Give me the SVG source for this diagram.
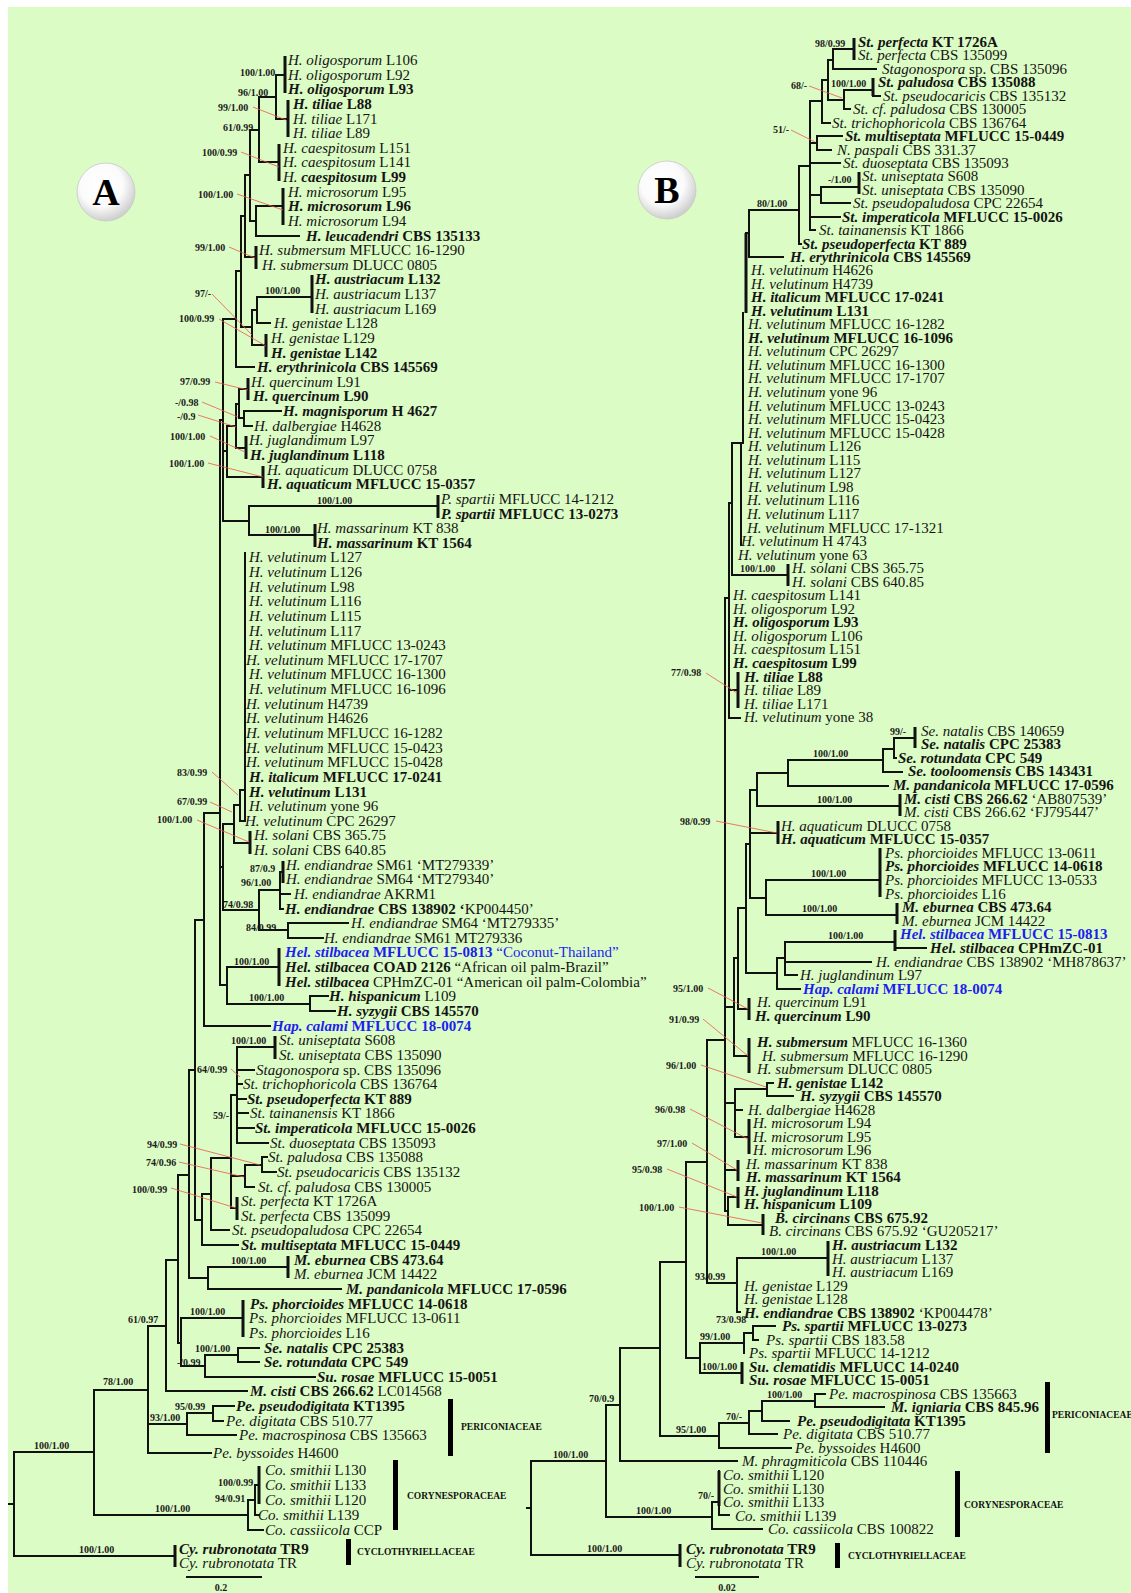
<svg xmlns="http://www.w3.org/2000/svg" width="1131" height="1593" viewBox="0 0 1131 1593">
<defs>
<radialGradient id="cg" cx="42%" cy="38%" r="62%">
<stop offset="0" stop-color="#ffffff"/>
<stop offset="0.6" stop-color="#fbfbfb"/>
<stop offset="1" stop-color="#cfcfcf"/>
</radialGradient>
<style>
.bg{fill:#dcfcc5}
.t{font-family:"Liberation Serif","Times New Roman",serif;font-size:15px;fill:#141414}
.i{font-style:italic}
.bi{font-style:italic;font-weight:bold}
.b{font-weight:bold}
.blue{fill:#1e1ef0}
.s{font-family:"Liberation Serif","Times New Roman",serif;font-size:10px;font-weight:bold;fill:#1a1a1a}
.fam{font-family:"Liberation Serif","Times New Roman",serif;font-size:9.5px;font-weight:bold;fill:#111}
.e{fill:none;stroke:#111;stroke-width:2;stroke-linecap:square}
.tb{fill:none;stroke:#111;stroke-width:3}
.ld{fill:none;stroke:#e8584f;stroke-width:0.8}
.big{font-family:"Liberation Serif","Times New Roman",serif;font-size:38px;font-weight:bold;fill:#000}
</style>
</defs>
<rect x="0" y="0" width="1131" height="1593" fill="#ffffff"/>
<rect class="bg" x="8" y="7" width="1123" height="1586"/>

<g id="badgeA"><circle cx="106" cy="192" r="29" fill="url(#cg)" stroke="#c8c8c8" stroke-width="0.8"/><text class="big" x="106" y="205" text-anchor="middle">A</text></g>
<g id="badgeB"><circle cx="667" cy="190" r="29" fill="url(#cg)" stroke="#c8c8c8" stroke-width="0.8"/><text class="big" x="667" y="203" text-anchor="middle">B</text></g>

<g id="connectors">
<path id="edgesA" class="e" d="M276 75V119M276 75H285M276 119H288M259 97V162M259 97H276M259 162H279M256 206V236M256 206H283M256 236H299M250 130V221M250 130H259M250 221H256M245 175V257M245 175H250M245 257H256M257 297V323M257 297H312M257 323H270M252 310V345M252 310H257M252 345H266M241 216V327M241 216H245M241 327H252M236 271V367M236 271H241M236 367H254M244 411V426M244 411H281M244 426H252M239 389V418M239 389H248M239 418H244M236 404V448M236 404H239M236 448H246M227 426V477M227 426H236M227 477H263M249 506V535M249 506H438M249 535H315M223 319V521M223 319H236M223 451H227M223 521H249M220 420V985M220 420H223M245 553V821M240 790V821M240 790H245M240 821H245M234 805V843M234 805H240M234 843H250M280 872V909M280 872H283M280 894H290M280 909H283M288 923V938M288 923H348M288 938H323M259 890V930M259 890H280M259 930H288M223 824V910M223 824H234M223 910H259M220 867H223M310 996V1011M310 996H328M310 1011H335M227 967V1004M227 967H279M227 1004H310M220 985H227M204 813V1026M204 813H220M204 1026H270M195 920V1220M195 920H204M237 1047V1143M237 1047H275M237 1070H254M237 1084H242M237 1099H246M237 1113H248M237 1128H254M237 1143H268M262 1157V1172M262 1157H267M262 1172H276M245 1165V1187M245 1165H262M245 1187H254M231 1095V1208M231 1095H237M231 1176H245M231 1208H237M211 1158V1230M211 1158H231M211 1230H229M202 1194V1245M202 1194H211M202 1245H238M195 1220H202M189 1070V1278M189 1070H195M208 1267V1289M208 1267H288M208 1289H341M189 1278H208M178 1175V1343M178 1175H189M178 1343H181M181 1318V1366M181 1318H243M181 1366H205M205 1355V1377M205 1355H238M205 1377H315M238 1348V1362M238 1348H259M238 1362H259M166 1260V1391M166 1260H178M166 1391H247M148 1326V1453M148 1326H166M148 1424H187M148 1453H211M213 1406V1421M213 1406H234M213 1421H223M187 1413V1435M187 1413H213M187 1435H236M255 1485V1515M255 1485H259M255 1515H259M248 1500V1530M248 1500H255M248 1530H263M94 1390V1515M94 1390H148M94 1515H248M14 1452V1556M14 1452H94M14 1556H175M9 1504H14"/>
<path id="barsA" class="tb" d="M285 56V93M288 100V137M279 144V181M283 188V225M256 246V269M312 275V313M266 334V357M248 378V400M246 436V459M263 466V488M438 495V518M315 524V547M250 831V854M283 861V883M279 948V986M275 1036V1059M237 1197V1220M288 1256V1278M243 1300V1337M259 1466V1504M175 1545V1567"/>
<path id="edgesB" class="e" d="M833 49V69M833 49H854M833 69H876M873 96H880M844 90V109M844 90H873M844 109H850M828 60V100M828 60H833M828 100H844M822 80V123M822 80H828M822 123H830M817 136V150M817 136H842M817 150H831M821 187V203M821 187H859M821 203H850M810 101V230M810 101H822M810 143H817M810 163H840M810 195H821M810 217H840M810 230H815M799 166V244M799 166H810M799 244H801M749 210V257M749 210H799M749 257H783M746 233H749M743 313V443M741 443V545M732 443H742M732 443V575M732 575H788M729 503H732M729 503V718M729 690H738M729 718H740M725 598H729M725 598V1211M894 738V758M894 738H915M894 758H896M883 749V772M883 749H894M883 772H902M788 760V786M788 760H883M788 786H888M757 773V806M757 773H788M757 806H900M766 880V915M766 880H880M766 915H897M750 790V898M750 790H757M750 833H778M750 898H766M785 942V975M785 942H895M785 962H871M785 975H797M895 948H926M777 958V989M777 958H785M777 989H800M746 844V973M746 844H750M746 973H777M738 908V1009M738 908H746M738 1009H749M734 958V1056M734 958H738M734 1056H749M725 1007H734M767 1083V1096M767 1083H773M767 1096H793M735 1089V1137M735 1089H767M735 1110H742M735 1137H749M725 1103H735M725 1170H738M728 1197V1225M728 1197H738M728 1225H763M725 1211H728M707 1040V1283M707 1040H725M737 1258V1312M737 1258H828M737 1312H740M707 1283H737M753 1326V1340M753 1326H775M753 1340H758M744 1333V1353M744 1333H753M700 1343V1373M700 1343H744M700 1373H742M686 1162V1358M686 1162H707M686 1358H700M815 1394V1407M815 1394H825M815 1407H884M762 1401V1421M762 1401H815M762 1421H789M749 1411V1434M749 1411H762M749 1434H777M719 1423V1448M719 1423H749M719 1448H791M660 1262V1436M660 1262H686M660 1436H719M620 1348V1461M620 1348H660M620 1461H737M719 1471V1515M719 1515H729M712 1502V1529M712 1502H719M712 1529H762M606 1405V1517M606 1405H620M606 1517H712M531 1461V1555M531 1461H606M531 1555H680M527 1508H531"/>
<path id="barsB" class="tb" d="M854 38V60M873 78V96M859 172V194M746 233V313M788 564V586M738 672V708M915 727V748M900 794V816M778 821V844M880 848V897M897 903V924M895 930V951M749 998V1020M749 1038V1073M749 1119V1154M738 1160V1181M738 1187V1208M763 1214V1235M828 1241V1276M742 1362V1384M719 1471V1506M680 1544V1567"/>
<path id="leadersA" class="ld" d="M253 107L286 120M241 152L279 167M237 194L283 210M229 247L255 258M212 294L252 335M219 319L266 346M215 382L248 390M202 402L238 417M198 415L236 427M210 436L245 452M208 463L263 477M212 772L238 795M210 802L232 812M197 820L249 842M231 1069L240 1077M180 1144L260 1165M179 1162L244 1177M171 1188L236 1208"/>
<path id="leadersB" class="ld" d="M809 86L842 98M791 130L815 142M706 673L737 693M716 821L777 833M708 988L748 1009M703 1019L748 1056M701 1065L766 1087M690 1109L748 1139M692 1143L737 1170M667 1169L737 1197M679 1207L762 1223"/>
<path id="scalebars" class="e" d="M187 1577H261M696 1577H758"/>
</g>

<g id="familyBars">
<rect x="448" y="1399" width="5" height="57" fill="#000"/>
<rect x="393" y="1460" width="5" height="70" fill="#000"/>
<rect x="346" y="1539" width="5" height="26" fill="#000"/>
<rect x="1045" y="1382" width="5" height="71" fill="#000"/>
<rect x="955" y="1471" width="5" height="66" fill="#000"/>
<rect x="835" y="1543" width="5" height="25" fill="#000"/>
</g>
<g id="familyLabels" class="fam">
<text id="famA1" x="461" y="1430">PERICONIACEAE</text>
<text id="famA2" x="407" y="1499">CORYNESPORACEAE</text>
<text id="famA3" x="357" y="1555">CYCLOTHYRIELLACEAE</text>
<text id="famB1" x="1052" y="1418">PERICONIACEAE</text>
<text id="famB2" x="964" y="1508">CORYNESPORACEAE</text>
<text id="famB3" x="848" y="1559">CYCLOTHYRIELLACEAE</text>
</g>
<g id="scaleLabels" class="s">
<text id="scA" x="221" y="1591" text-anchor="middle">0.2</text>
<text id="scB" x="727" y="1591" text-anchor="middle">0.02</text>
</g>

<g id="supportA" class="s">
<text x="240" y="75.5">100/1.00</text>
<text x="238" y="95.5">96/1.00</text>
<text x="218" y="110.5">99/1.00</text>
<text x="223" y="130.5">61/0.99</text>
<text x="202" y="155.5">100/0.99</text>
<text x="198" y="197.5">100/1.00</text>
<text x="195" y="250.5">99/1.00</text>
<text x="195" y="296.5">97/-</text>
<text x="265" y="293.5">100/1.00</text>
<text x="179" y="321.5">100/0.99</text>
<text x="180" y="384.5">97/0.99</text>
<text x="175" y="405.5">-/0.98</text>
<text x="177" y="419.5">-/0.9</text>
<text x="170" y="439.5">100/1.00</text>
<text x="169" y="466.5">100/1.00</text>
<text x="317" y="503.5">100/1.00</text>
<text x="265" y="532.5">100/1.00</text>
<text x="177" y="775.5">83/0.99</text>
<text x="177" y="804.5">67/0.99</text>
<text x="157" y="822.5">100/1.00</text>
<text x="250" y="871.5">87/0.9</text>
<text x="241" y="885.5">96/1.00</text>
<text x="223" y="907.5">74/0.98</text>
<text x="246" y="930.5">84/0.99</text>
<text x="234" y="964.5">100/1.00</text>
<text x="249" y="1000.5">100/1.00</text>
<text x="231" y="1043.5">100/1.00</text>
<text x="197" y="1072.5">64/0.99</text>
<text x="213" y="1118.5">59/-</text>
<text x="147" y="1147.5">94/0.99</text>
<text x="146" y="1165.5">74/0.96</text>
<text x="132" y="1192.5">100/0.99</text>
<text x="231" y="1263.5">100/1.00</text>
<text x="190" y="1314.5">100/1.00</text>
<text x="128" y="1322.5">61/0.97</text>
<text x="195" y="1351.5">100/1.00</text>
<text x="177" y="1365.5">-/0.99</text>
<text x="103" y="1384.5">78/1.00</text>
<text x="175" y="1410">95/0.99</text>
<text x="150" y="1421">93/1.00</text>
<text x="34" y="1448.5">100/1.00</text>
<text x="218" y="1485.5">100/0.99</text>
<text x="215" y="1501.5">94/0.91</text>
<text x="155" y="1511.5">100/1.00</text>
<text x="79" y="1552.5">100/1.00</text>
</g>

<g id="supportB" class="s">
<text x="815" y="46.5">98/0.99</text>
<text x="831" y="86.5">100/1.00</text>
<text x="791" y="88.5">68/-</text>
<text x="773" y="132.5">51/-</text>
<text x="828" y="183">-/1.00</text>
<text x="757" y="206.5">80/1.00</text>
<text x="740" y="571.5">100/1.00</text>
<text x="671" y="675.5">77/0.98</text>
<text x="890" y="734.5">99/-</text>
<text x="813" y="756.5">100/1.00</text>
<text x="817" y="802.5">100/1.00</text>
<text x="680" y="824.5">98/0.99</text>
<text x="811" y="876.5">100/1.00</text>
<text x="802" y="911.5">100/1.00</text>
<text x="828" y="938.5">100/1.00</text>
<text x="673" y="991.5">95/1.00</text>
<text x="669" y="1022.5">91/0.99</text>
<text x="666" y="1068.5">96/1.00</text>
<text x="655" y="1112.5">96/0.98</text>
<text x="657" y="1146.5">97/1.00</text>
<text x="632" y="1172.5">95/0.98</text>
<text x="639" y="1210.5">100/1.00</text>
<text x="761" y="1254.5">100/1.00</text>
<text x="695" y="1279.5">93/0.99</text>
<text x="716" y="1323">73/0.98</text>
<text x="700" y="1339.5">99/1.00</text>
<text x="702" y="1369.5">100/1.00</text>
<text x="767" y="1397.5">100/1.00</text>
<text x="726" y="1419.5">70/-</text>
<text x="676" y="1432.5">95/1.00</text>
<text x="589" y="1401.5">70/0.9</text>
<text x="553" y="1457.5">100/1.00</text>
<text x="698" y="1498.5">70/-</text>
<text x="636" y="1513.5">100/1.00</text>
<text x="587" y="1551.5">100/1.00</text>
</g>

<g id="taxaA" class="t">
<text id="a01" x="288" y="65"><tspan class="i">H. oligosporum</tspan> L106</text>
<text id="a02" x="288" y="80"><tspan class="i">H. oligosporum</tspan> L92</text>
<text id="a03" x="288" y="94"><tspan class="bi">H. oligosporum</tspan><tspan class="b"> L93</tspan></text>
<text id="a04" x="293" y="109"><tspan class="bi">H. tiliae</tspan><tspan class="b"> L88</tspan></text>
<text id="a05" x="293" y="124"><tspan class="i">H. tiliae</tspan> L171</text>
<text id="a06" x="293" y="138"><tspan class="i">H. tiliae</tspan> L89</text>
<text id="a07" x="283" y="153"><tspan class="i">H. caespitosum</tspan> L151</text>
<text id="a08" x="283" y="167"><tspan class="i">H. caespitosum</tspan> L141</text>
<text id="a09" x="283" y="182"><tspan class="i">H.</tspan><tspan class="bi"> caespitosum</tspan><tspan class="b"> L99</tspan></text>
<text id="a10" x="288" y="197"><tspan class="i">H. microsorum</tspan> L95</text>
<text id="a11" x="288" y="211"><tspan class="bi">H. microsorum</tspan><tspan class="b"> L96</tspan></text>
<text id="a12" x="288" y="226"><tspan class="i">H. microsorum</tspan> L94</text>
<text id="a13" x="306" y="241"><tspan class="bi">H. leucadendri</tspan><tspan class="b"> CBS 135133</tspan></text>
<text id="a14" x="259" y="255"><tspan class="i">H. submersum</tspan> MFLUCC 16-1290</text>
<text id="a15" x="262" y="270"><tspan class="i">H. submersum</tspan> DLUCC 0805</text>
<text id="a16" x="315" y="284"><tspan class="bi">H. austriacum</tspan><tspan class="b"> L132</tspan></text>
<text id="a17" x="315" y="299"><tspan class="i">H. austriacum</tspan> L137</text>
<text id="a18" x="315" y="314"><tspan class="i">H. austriacum</tspan> L169</text>
<text id="a19" x="274" y="328"><tspan class="i">H. genistae</tspan> L128</text>
<text id="a20" x="271" y="343"><tspan class="i">H. genistae</tspan> L129</text>
<text id="a21" x="271" y="358"><tspan class="bi">H. genistae</tspan><tspan class="b"> L142</tspan></text>
<text id="a22" x="257" y="372"><tspan class="bi">H. erythrinicola</tspan><tspan class="b"> CBS 145569</tspan></text>
<text id="a23" x="251" y="387"><tspan class="i">H. quercinum</tspan> L91</text>
<text id="a24" x="253" y="401"><tspan class="bi">H. quercinum</tspan><tspan class="b"> L90</tspan></text>
<text id="a25" x="283" y="416"><tspan class="bi">H. magnisporum</tspan><tspan class="b"> H 4627</tspan></text>
<text id="a26" x="254" y="431"><tspan class="i">H. dalbergiae</tspan> H4628</text>
<text id="a27" x="249" y="445"><tspan class="i">H. juglandimum</tspan> L97</text>
<text id="a28" x="250" y="460"><tspan class="bi">H. juglandinum</tspan><tspan class="b"> L118</tspan></text>
<text id="a29" x="267" y="475"><tspan class="i">H. aquaticum</tspan> DLUCC 0758</text>
<text id="a30" x="267" y="489"><tspan class="bi">H. aquaticum</tspan><tspan class="b"> MFLUCC 15-0357</tspan></text>
<text id="a31" x="441" y="504"><tspan class="i">P. spartii</tspan> MFLUCC 14-1212</text>
<text id="a32" x="441" y="519"><tspan class="bi">P. spartii</tspan><tspan class="b"> MFLUCC 13-0273</tspan></text>
<text id="a33" x="317" y="533"><tspan class="i">H. massarinum</tspan> KT 838</text>
<text id="a34" x="317" y="548"><tspan class="bi">H. massarinum</tspan><tspan class="b"> KT 1564</tspan></text>
<text id="a35" x="249" y="562"><tspan class="i">H. velutinum</tspan> L127</text>
<text id="a36" x="249" y="577"><tspan class="i">H. velutinum</tspan> L126</text>
<text id="a37" x="249" y="592"><tspan class="i">H. velutinum</tspan> L98</text>
<text id="a38" x="249" y="606"><tspan class="i">H. velutinum</tspan> L116</text>
<text id="a39" x="249" y="621"><tspan class="i">H. velutinum</tspan> L115</text>
<text id="a40" x="249" y="636"><tspan class="i">H. velutinum</tspan> L117</text>
<text id="a41" x="249" y="650"><tspan class="i">H. velutinum</tspan> MFLUCC 13-0243</text>
<text id="a42" x="246" y="665"><tspan class="i">H. velutinum</tspan> MFLUCC 17-1707</text>
<text id="a43" x="249" y="679"><tspan class="i">H. velutinum</tspan> MFLUCC 16-1300</text>
<text id="a44" x="249" y="694"><tspan class="i">H. velutinum</tspan> MFLUCC 16-1096</text>
<text id="a45" x="246" y="709"><tspan class="i">H. velutinum</tspan> H4739</text>
<text id="a46" x="246" y="723"><tspan class="i">H. velutinum</tspan> H4626</text>
<text id="a47" x="246" y="738"><tspan class="i">H. velutinum</tspan> MFLUCC 16-1282</text>
<text id="a48" x="246" y="753"><tspan class="i">H. velutinum</tspan> MFLUCC 15-0423</text>
<text id="a49" x="246" y="767"><tspan class="i">H. velutinum</tspan> MFLUCC 15-0428</text>
<text id="a50" x="249" y="782"><tspan class="bi">H. italicum</tspan><tspan class="b"> MFLUCC 17-0241</tspan></text>
<text id="a51" x="249" y="797"><tspan class="bi">H. velutinum</tspan><tspan class="b"> L131</tspan></text>
<text id="a52" x="249" y="811"><tspan class="i">H. velutinum</tspan> yone 96</text>
<text id="a53" x="245" y="826"><tspan class="i">H. velutinum</tspan> CPC 26297</text>
<text id="a54" x="254" y="840"><tspan class="i">H. solani</tspan> CBS 365.75</text>
<text id="a55" x="254" y="855"><tspan class="i">H. solani</tspan> CBS 640.85</text>
<text id="a56" x="286" y="870"><tspan class="i">H. endiandrae</tspan> SM61 ‘MT279339’</text>
<text id="a57" x="286" y="884"><tspan class="i">H. endiandrae</tspan> SM64 ‘MT279340’</text>
<text id="a58" x="294" y="899"><tspan class="i">H. endiandrae</tspan> AKRM1</text>
<text id="a59" x="285" y="914"><tspan class="bi">H. endiandrae</tspan><tspan class="b"> CBS 138902 ‘</tspan>KP004450’</text>
<text id="a60" x="351" y="928"><tspan class="i">H. endiandrae</tspan> SM64 ‘MT279335’</text>
<text id="a61" x="324" y="943"><tspan class="i">H. endiandrae</tspan> SM61 MT279336</text>
<text id="a62" class="blue" x="285" y="957"><tspan class="bi">Hel. stilbacea</tspan><tspan class="b"> MFLUCC 15-0813</tspan> “Coconut-Thailand”</text>
<text id="a63" x="285" y="972"><tspan class="bi">Hel. stilbacea</tspan><tspan class="b"> COAD 2126</tspan> “African oil palm-Brazil”</text>
<text id="a64" x="285" y="987"><tspan class="bi">Hel. stilbacea</tspan> CPHmZC-01 “American oil palm-Colombia”</text>
<text id="a65" x="329" y="1001"><tspan class="bi">H. hispanicum</tspan> L109</text>
<text id="a66" x="337" y="1016"><tspan class="bi">H. syzygii</tspan><tspan class="b"> CBS 145570</tspan></text>
<text id="a67" class="blue" x="272" y="1031"><tspan class="bi">Hap. calami</tspan><tspan class="b"> MFLUCC 18-0074</tspan></text>
<text id="a68" x="279" y="1045"><tspan class="i">St. uniseptata</tspan> S608</text>
<text id="a69" x="279" y="1060"><tspan class="i">St. uniseptata</tspan> CBS 135090</text>
<text id="a70" x="256" y="1075"><tspan class="i">Stagonospora</tspan> sp. CBS 135096</text>
<text id="a71" x="243" y="1089"><tspan class="i">St. trichophoricola</tspan> CBS 136764</text>
<text id="a72" x="247" y="1104"><tspan class="bi">St. pseudoperfecta</tspan><tspan class="b"> KT 889</tspan></text>
<text id="a73" x="250" y="1118"><tspan class="i">St. tainanensis</tspan> KT 1866</text>
<text id="a74" x="255" y="1133"><tspan class="bi">St. imperaticola</tspan><tspan class="b"> MFLUCC 15-0026</tspan></text>
<text id="a75" x="270" y="1148"><tspan class="i">St. duoseptata</tspan> CBS 135093</text>
<text id="a76" x="268" y="1162"><tspan class="i">St. paludosa</tspan> CBS 135088</text>
<text id="a77" x="277" y="1177"><tspan class="i">St. pseudocaricis</tspan> CBS 135132</text>
<text id="a78" x="258" y="1192"><tspan class="i">St. cf. paludosa</tspan> CBS 130005</text>
<text id="a79" x="241" y="1206"><tspan class="i">St. perfecta</tspan> KT 1726A</text>
<text id="a80" x="241" y="1221"><tspan class="i">St. perfecta</tspan> CBS 135099</text>
<text id="a81" x="232" y="1235"><tspan class="i">St. pseudopaludosa</tspan> CPC 22654</text>
<text id="a82" x="241" y="1250"><tspan class="bi">St. multiseptata</tspan><tspan class="b"> MFLUCC 15-0449</tspan></text>
<text id="a83" x="294" y="1265"><tspan class="bi">M. eburnea</tspan><tspan class="b"> CBS 473.64</tspan></text>
<text id="a84" x="294" y="1279"><tspan class="i">M. eburnea</tspan> JCM 14422</text>
<text id="a85" x="346" y="1294"><tspan class="bi">M. pandanicola</tspan><tspan class="b"> MFLUCC 17-0596</tspan></text>
<text id="a86" x="250" y="1309"><tspan class="bi">Ps. phorcioides</tspan><tspan class="b"> MFLUCC 14-0618</tspan></text>
<text id="a87" x="249" y="1323"><tspan class="i">Ps. phorcioides</tspan> MFLUCC 13-0611</text>
<text id="a88" x="249" y="1338"><tspan class="i">Ps. phorcioides</tspan> L16</text>
<text id="a89" x="264" y="1353"><tspan class="bi">Se. natalis</tspan><tspan class="b"> CPC 25383</tspan></text>
<text id="a90" x="264" y="1367"><tspan class="bi">Se. rotundata</tspan><tspan class="b"> CPC 549</tspan></text>
<text id="a91" x="317" y="1382"><tspan class="bi">Su. rosae</tspan><tspan class="b"> MFLUCC 15-0051</tspan></text>
<text id="a92" x="250" y="1396"><tspan class="bi">M. cisti</tspan><tspan class="b"> CBS 266.62</tspan> LC014568</text>
<text id="a93" x="236" y="1411"><tspan class="bi">Pe. pseudodigitata</tspan><tspan class="b"> KT1395</tspan></text>
<text id="a94" x="226" y="1426"><tspan class="i">Pe. digitata</tspan> CBS 510.77</text>
<text id="a95" x="239" y="1440"><tspan class="i">Pe. macrospinosa</tspan> CBS 135663</text>
<text id="a96" x="213" y="1458"><tspan class="i">Pe. byssoides</tspan> H4600</text>
<text id="a97" x="265" y="1475"><tspan class="i">Co. smithii</tspan> L130</text>
<text id="a98" x="265" y="1490"><tspan class="i">Co. smithii</tspan> L133</text>
<text id="a99" x="265" y="1505"><tspan class="i">Co. smithii</tspan> L120</text>
<text id="a100" x="258" y="1520"><tspan class="i">Co. smithii</tspan> L139</text>
<text id="a101" x="265" y="1535"><tspan class="i">Co. cassiicola</tspan> CCP</text>
<text id="a102" x="179" y="1554"><tspan class="bi">Cy. rubronotata</tspan><tspan class="b"> TR9</tspan></text>
<text id="a103" x="179" y="1568"><tspan class="i">Cy. rubronotata</tspan> TR</text>
</g>

<g id="taxaB" class="t">
<text id="b01" x="858" y="47"><tspan class="bi">St. perfecta</tspan><tspan class="b"> KT 1726A</tspan></text>
<text id="b02" x="858" y="60.4"><tspan class="i">St. perfecta</tspan> CBS 135099</text>
<text id="b03" x="882" y="73.9"><tspan class="i">Stagonospora</tspan> sp. CBS 135096</text>
<text id="b04" x="878" y="87.3"><tspan class="bi">St. paludosa</tspan><tspan class="b"> CBS 135088</tspan></text>
<text id="b05" x="883" y="100.8"><tspan class="i">St. pseudocaricis</tspan> CBS 135132</text>
<text id="b06" x="853" y="114.2"><tspan class="i">St. cf. paludosa</tspan> CBS 130005</text>
<text id="b07" x="832" y="127.6"><tspan class="i">St. trichophoricola</tspan> CBS 136764</text>
<text id="b08" x="845" y="141.1"><tspan class="bi">St. multiseptata</tspan><tspan class="b"> MFLUCC 15-0449</tspan></text>
<text id="b09" x="837" y="154.5"><tspan class="i">N. paspali</tspan> CBS 331.37</text>
<text id="b10" x="843" y="168"><tspan class="i">St. duoseptata</tspan> CBS 135093</text>
<text id="b11" x="862" y="181.4"><tspan class="i">St. uniseptata</tspan> S608</text>
<text id="b12" x="862" y="194.8"><tspan class="i">St. uniseptata</tspan> CBS 135090</text>
<text id="b13" x="853" y="208.3"><tspan class="i">St. pseudopaludosa</tspan> CPC 22654</text>
<text id="b14" x="842" y="221.7"><tspan class="bi">St. imperaticola</tspan><tspan class="b"> MFLUCC 15-0026</tspan></text>
<text id="b15" x="819" y="235.2"><tspan class="i">St. tainanensis</tspan> KT 1866</text>
<text id="b16" x="802" y="248.6"><tspan class="bi">St. pseudoperfecta</tspan><tspan class="b"> KT 889</tspan></text>
<text id="b17" x="790" y="262"><tspan class="bi">H. erythrinicola</tspan><tspan class="b"> CBS 145569</tspan></text>
<text id="b18" x="751" y="275"><tspan class="i">H. velutinum</tspan> H4626</text>
<text id="b19" x="751" y="288.6"><tspan class="i">H. velutinum</tspan> H4739</text>
<text id="b20" x="751" y="302.1"><tspan class="bi">H. italicum</tspan><tspan class="b"> MFLUCC 17-0241</tspan></text>
<text id="b21" x="751" y="315.7"><tspan class="bi">H. velutinum</tspan><tspan class="b"> L131</tspan></text>
<text id="b22" x="748" y="329.2"><tspan class="i">H. velutinum</tspan> MFLUCC 16-1282</text>
<text id="b23" x="748" y="342.8"><tspan class="bi">H. velutinum</tspan><tspan class="b"> MFLUCC 16-1096</tspan></text>
<text id="b24" x="748" y="356.3"><tspan class="i">H. velutinum</tspan> CPC 26297</text>
<text id="b25" x="748" y="369.9"><tspan class="i">H. velutinum</tspan> MFLUCC 16-1300</text>
<text id="b26" x="748" y="383.4"><tspan class="i">H. velutinum</tspan> MFLUCC 17-1707</text>
<text id="b27" x="748" y="397"><tspan class="i">H. velutinum</tspan> yone 96</text>
<text id="b28" x="748" y="410.5"><tspan class="i">H. velutinum</tspan> MFLUCC 13-0243</text>
<text id="b29" x="748" y="424"><tspan class="i">H. velutinum</tspan> MFLUCC 15-0423</text>
<text id="b30" x="748" y="437.6"><tspan class="i">H. velutinum</tspan> MFLUCC 15-0428</text>
<text id="b31" x="748" y="451.2"><tspan class="i">H. velutinum</tspan> L126</text>
<text id="b32" x="748" y="464.7"><tspan class="i">H. velutinum</tspan> L115</text>
<text id="b33" x="748" y="478.3"><tspan class="i">H. velutinum</tspan> L127</text>
<text id="b34" x="748" y="491.8"><tspan class="i">H. velutinum</tspan> L98</text>
<text id="b35" x="747" y="505.4"><tspan class="i">H. velutinum</tspan> L116</text>
<text id="b36" x="747" y="518.9"><tspan class="i">H. velutinum</tspan> L117</text>
<text id="b37" x="747" y="532.5"><tspan class="i">H. velutinum</tspan> MFLUCC 17-1321</text>
<text id="b38" x="741" y="546"><tspan class="i">H. velutinum</tspan> H 4743</text>
<text id="b39" x="738" y="559.6"><tspan class="i">H. velutinum</tspan> yone 63</text>
<text id="b40" x="792" y="573.1"><tspan class="i">H. solani</tspan> CBS 365.75</text>
<text id="b41" x="792" y="586.7"><tspan class="i">H. solani</tspan> CBS 640.85</text>
<text id="b42" x="733" y="600.2"><tspan class="i">H. caespitosum</tspan> L141</text>
<text id="b43" x="733" y="613.8"><tspan class="i">H. oligosporum</tspan> L92</text>
<text id="b44" x="733" y="627.3"><tspan class="bi">H. oligosporum</tspan><tspan class="b"> L93</tspan></text>
<text id="b45" x="733" y="640.9"><tspan class="i">H. oligosporum</tspan> L106</text>
<text id="b46" x="733" y="654.4"><tspan class="i">H. caespitosum</tspan> L151</text>
<text id="b47" x="733" y="668"><tspan class="bi">H. caespitosum</tspan><tspan class="b"> L99</tspan></text>
<text id="b48" x="744" y="681.5"><tspan class="bi">H. tiliae</tspan><tspan class="b"> L88</tspan></text>
<text id="b49" x="744" y="695.1"><tspan class="i">H. tiliae</tspan> L89</text>
<text id="b50" x="744" y="708.6"><tspan class="i">H. tiliae</tspan> L171</text>
<text id="b51" x="744" y="722.2"><tspan class="i">H. velutinum</tspan> yone 38</text>
<text id="b52" x="921" y="735.7"><tspan class="i">Se. natalis</tspan> CBS 140659</text>
<text id="b53" x="921" y="749.3"><tspan class="bi">Se. natalis</tspan><tspan class="b"> CPC 25383</tspan></text>
<text id="b54" x="898" y="762.8"><tspan class="bi">Se. rotundata</tspan><tspan class="b"> CPC 549</tspan></text>
<text id="b55" x="908" y="776.4"><tspan class="bi">Se. tooloomensis</tspan><tspan class="b"> CBS 143431</tspan></text>
<text id="b56" x="893" y="789.9"><tspan class="bi">M. pandanicola</tspan><tspan class="b"> MFLUCC 17-0596</tspan></text>
<text id="b57" x="904" y="803.5"><tspan class="bi">M. cisti</tspan><tspan class="b"> CBS 266.62</tspan> ‘AB807539’</text>
<text id="b58" x="904" y="817"><tspan class="i">M. cisti</tspan> CBS 266.62 ‘FJ795447’</text>
<text id="b59" x="781" y="830.6"><tspan class="i">H. aquaticum</tspan> DLUCC 0758</text>
<text id="b60" x="781" y="844.2"><tspan class="bi">H. aquaticum</tspan><tspan class="b"> MFLUCC 15-0357</tspan></text>
<text id="b61" x="885" y="857.8"><tspan class="i">Ps. phorcioides</tspan> MFLUCC 13-0611</text>
<text id="b62" x="885" y="871.4"><tspan class="bi">Ps. phorcioides</tspan><tspan class="b"> MFLUCC 14-0618</tspan></text>
<text id="b63" x="885" y="885"><tspan class="i">Ps. phorcioides</tspan> MFLUCC 13-0533</text>
<text id="b64" x="885" y="898.6"><tspan class="i">Ps. phorcioides</tspan> L16</text>
<text id="b65" x="902" y="912.2"><tspan class="bi">M. eburnea</tspan><tspan class="b"> CBS 473.64</tspan></text>
<text id="b66" x="902" y="925.8"><tspan class="i">M. eburnea</tspan> JCM 14422</text>
<text id="b67" class="blue" x="900" y="939.4"><tspan class="bi">Hel. stilbacea</tspan><tspan class="b"> MFLUCC 15-0813</tspan></text>
<text id="b68" x="930" y="953"><tspan class="bi">Hel. stilbacea</tspan><tspan class="b"> CPHmZC-01</tspan></text>
<text id="b69" x="876" y="966.6"><tspan class="i">H. endiandrae</tspan> CBS 138902 ‘MH878637’</text>
<text id="b70" x="800" y="980.2"><tspan class="i">H. juglandinum</tspan> L97</text>
<text id="b71" class="blue" x="803" y="993.8"><tspan class="bi">Hap. calami</tspan><tspan class="b"> MFLUCC 18-0074</tspan></text>
<text id="b72" x="757" y="1007.4"><tspan class="i">H. quercinum</tspan> L91</text>
<text id="b73" x="755" y="1021"><tspan class="bi">H. quercinum</tspan><tspan class="b"> L90</tspan></text>
<text id="b74" x="757" y="1047"><tspan class="bi">H. submersum</tspan> MFLUCC 16-1360</text>
<text id="b75" x="762" y="1060.5"><tspan class="i">H. submersum</tspan> MFLUCC 16-1290</text>
<text id="b76" x="757" y="1074.1"><tspan class="i">H. submersum</tspan> DLUCC 0805</text>
<text id="b77" x="777" y="1087.6"><tspan class="bi">H. genistae</tspan><tspan class="b"> L142</tspan></text>
<text id="b78" x="800" y="1101.1"><tspan class="bi">H. syzygii</tspan><tspan class="b"> CBS 145570</tspan></text>
<text id="b79" x="748" y="1114.6"><tspan class="i">H. dalbergiae</tspan> H4628</text>
<text id="b80" x="753" y="1128.2"><tspan class="i">H. microsorum</tspan> L94</text>
<text id="b81" x="753" y="1141.7"><tspan class="i">H. microsorum</tspan> L95</text>
<text id="b82" x="753" y="1155.2"><tspan class="i">H. microsorum</tspan> L96</text>
<text id="b83" x="746" y="1168.8"><tspan class="i">H. massarinum</tspan> KT 838</text>
<text id="b84" x="746" y="1182.3"><tspan class="bi">H. massarinum</tspan><tspan class="b"> KT 1564</tspan></text>
<text id="b85" x="744" y="1195.8"><tspan class="bi">H. juglandinum</tspan><tspan class="b"> L118</tspan></text>
<text id="b86" x="744" y="1209.4"><tspan class="bi">H. hispanicum</tspan><tspan class="b"> L109</tspan></text>
<text id="b87" x="775" y="1222.9"><tspan class="bi">B. circinans</tspan><tspan class="b"> CBS 675.92</tspan></text>
<text id="b88" x="769" y="1236.4"><tspan class="i">B. circinans</tspan> CBS 675.92 ‘GU205217’</text>
<text id="b89" x="832" y="1249.9"><tspan class="bi">H. austriacum</tspan><tspan class="b"> L132</tspan></text>
<text id="b90" x="832" y="1263.5"><tspan class="i">H. austriacum</tspan> L137</text>
<text id="b91" x="832" y="1277"><tspan class="i">H. austriacum</tspan> L169</text>
<text id="b92" x="744" y="1290.5"><tspan class="i">H. genistae</tspan> L129</text>
<text id="b93" x="744" y="1304.1"><tspan class="i">H. genistae</tspan> L128</text>
<text id="b94" x="744" y="1317.6"><tspan class="bi">H. endiandrae</tspan><tspan class="b"> CBS 138902</tspan> ‘KP004478’</text>
<text id="b95" x="782" y="1331.1"><tspan class="bi">Ps. spartii</tspan><tspan class="b"> MFLUCC 13-0273</tspan></text>
<text id="b96" x="766" y="1344.7"><tspan class="i">Ps. spartii</tspan> CBS 183.58</text>
<text id="b97" x="749" y="1358.2"><tspan class="i">Ps. spartii</tspan> MFLUCC 14-1212</text>
<text id="b98" x="749" y="1371.7"><tspan class="bi">Su. clematidis</tspan><tspan class="b"> MFLUCC 14-0240</tspan></text>
<text id="b99" x="749" y="1385.2"><tspan class="bi">Su. rosae</tspan><tspan class="b"> MFLUCC 15-0051</tspan></text>
<text id="b100" x="829" y="1398.8"><tspan class="i">Pe. macrospinosa</tspan> CBS 135663</text>
<text id="b101" x="891" y="1412.3"><tspan class="bi">M. igniaria</tspan><tspan class="b"> CBS 845.96</tspan></text>
<text id="b102" x="797" y="1425.8"><tspan class="bi">Pe. pseudodigitata</tspan><tspan class="b"> KT1395</tspan></text>
<text id="b103" x="783" y="1439.4"><tspan class="i">Pe. digitata</tspan> CBS 510.77</text>
<text id="b104" x="795" y="1452.9"><tspan class="i">Pe. byssoides</tspan> H4600</text>
<text id="b105" x="742" y="1466.4"><tspan class="i">M. phragmiticola</tspan> CBS 110446</text>
<text id="b106" x="723" y="1479.9"><tspan class="i">Co. smithii</tspan> L120</text>
<text id="b107" x="723" y="1493.5"><tspan class="i">Co. smithii</tspan> L130</text>
<text id="b108" x="723" y="1507"><tspan class="i">Co. smithii</tspan> L133</text>
<text id="b109" x="735" y="1520.5"><tspan class="i">Co. smithii</tspan> L139</text>
<text id="b110" x="768" y="1534"><tspan class="i">Co. cassiicola</tspan> CBS 100822</text>
<text id="b111" x="686" y="1554"><tspan class="bi">Cy. rubronotata</tspan><tspan class="b"> TR9</tspan></text>
<text id="b112" x="686" y="1568"><tspan class="i">Cy. rubronotata</tspan> TR</text>
</g>
</svg>
